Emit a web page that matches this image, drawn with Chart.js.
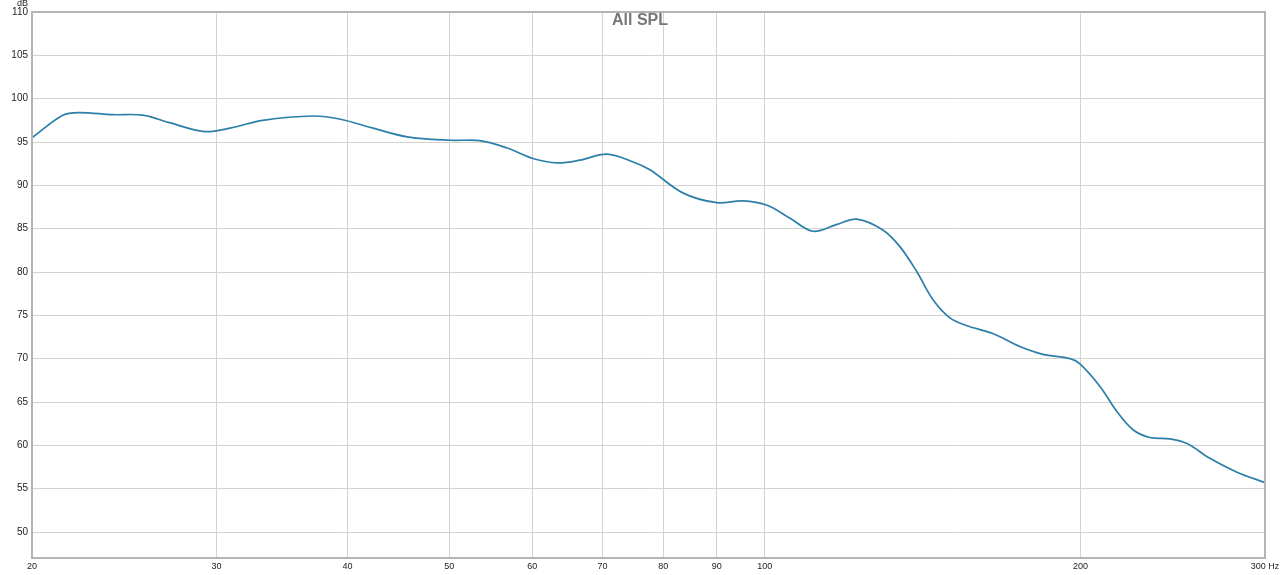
<!DOCTYPE html>
<html>
<head>
<meta charset="utf-8">
<script src="https://cdn.jsdelivr.net/npm/chart.js@4"></script>
<style>
  html, body { margin: 0; padding: 0; background: #fff; }
  #wrap { width: 1280px; height: 575px; position: relative; }
</style>
</head>
<body>
<div id="wrap"><canvas id="splChart"></canvas></div>
<script>
// frequency response data (Hz / dB)
const freqs = [20, 21.4, 22.2, 23.9, 25.5, 27.1, 29.2, 30.9, 33.2, 37.1, 39.3, 42.3, 45.6, 50.1, 53.5, 56.8,
  60.1, 63.4, 66.6, 70.7, 74.9, 77.7, 83.6, 90.0, 95.3, 100.5, 105.7, 111.2, 117.2, 122.4, 129.6, 134.6,
  139.7, 144.7, 150.2, 155.9, 165.0, 175.1, 184.2, 195.5, 199.8, 208.8, 216.7, 224.5, 233.0, 243.5,
  252.8, 265.8, 282.1, 300];
const spl = [95.5, 98.1, 98.4, 98.15, 98.1, 97.2, 96.2, 96.6, 97.5, 98.0, 97.65, 96.6, 95.6, 95.2, 95.15, 94.3,
  93.1, 92.6, 92.9, 93.6, 92.7, 91.8, 89.1, 88.0, 88.2, 87.7, 86.2, 84.7, 85.5, 86.1, 84.85, 82.9,
  80.0, 76.8, 74.7, 73.8, 72.9, 71.4, 70.5, 70.0, 69.4, 66.8, 63.9, 61.8, 60.9, 60.75,
  60.2, 58.5, 56.9, 55.7];
const xTicks = [20, 30, 40, 50, 60, 70, 80, 90, 100, 200, 300];
const yTicks = [50, 55, 60, 65, 70, 75, 80, 85, 90, 95, 100, 105, 110];

const points = freqs.map((f, i) => ({ x: f, y: spl[i] }));

// title, axis unit and frame drawn on top of the plot
const framePlugin = {
  id: 'frame',
  afterDraw(chart) {
    const { ctx, chartArea: a } = chart;
    ctx.save();
    ctx.strokeStyle = '#b4b4b4';
    ctx.lineWidth = 2;
    ctx.strokeRect(a.left, a.top, a.right - a.left, a.bottom - a.top);
    ctx.fillStyle = '#777';
    ctx.font = 'bold 16px "Liberation Sans", Arial, sans-serif';
    ctx.textAlign = 'center';
    ctx.textBaseline = 'middle';
    ctx.fillText('All SPL', 640, 21);
    ctx.fillStyle = '#222';
    ctx.font = '9px "Liberation Sans", Arial, sans-serif';
    ctx.textAlign = 'right';
    ctx.fillText('dB', 28, 4);
    ctx.restore();
  }
};

new Chart(document.getElementById('splChart'), {
  type: 'line',
  data: {
    datasets: [{
      label: 'All SPL',
      data: points,
      borderColor: '#2c7fa9',
      borderWidth: 1.7,
      pointRadius: 0,
      fill: false,
      tension: 0.35
    }]
  },
  options: {
    responsive: true,
    maintainAspectRatio: false,
    animation: false,
    layout: { padding: { top: 12, right: 15, left: 0, bottom: 0 } },
    plugins: {
      legend: { display: false },
      tooltip: { enabled: false }
    },
    scales: {
      x: {
        type: 'logarithmic',
        min: 20,
        max: 300,
        afterBuildTicks: (s) => { s.ticks = xTicks.map(v => ({ value: v })); },
        afterFit: (s) => { s.height = 17; s.paddingLeft = 0; s.paddingRight = 0; },
        grid: { color: '#d2d2d2', drawTicks: false },
        border: { display: false },
        ticks: {
          autoSkip: false,
          maxRotation: 0,
          padding: 3,
          color: '#222',
          font: { size: 9, family: '"Liberation Sans", Arial, sans-serif' },
          callback: (v) => v === 300 ? '300 Hz' : String(v)
        }
      },
      y: {
        min: 47,
        max: 110,
        afterBuildTicks: (s) => { s.ticks = yTicks.map(v => ({ value: v })); },
        afterFit: (s) => { s.width = 32; s.paddingTop = 0; s.paddingBottom = 0; },
        grid: { color: '#d2d2d2', drawTicks: false },
        border: { display: false },
        ticks: {
          padding: 4,
          color: '#222',
          font: { size: 10, family: '"Liberation Sans", Arial, sans-serif' }
        }
      }
    }
  },
  plugins: [framePlugin]
});
</script>
</body>
</html>
